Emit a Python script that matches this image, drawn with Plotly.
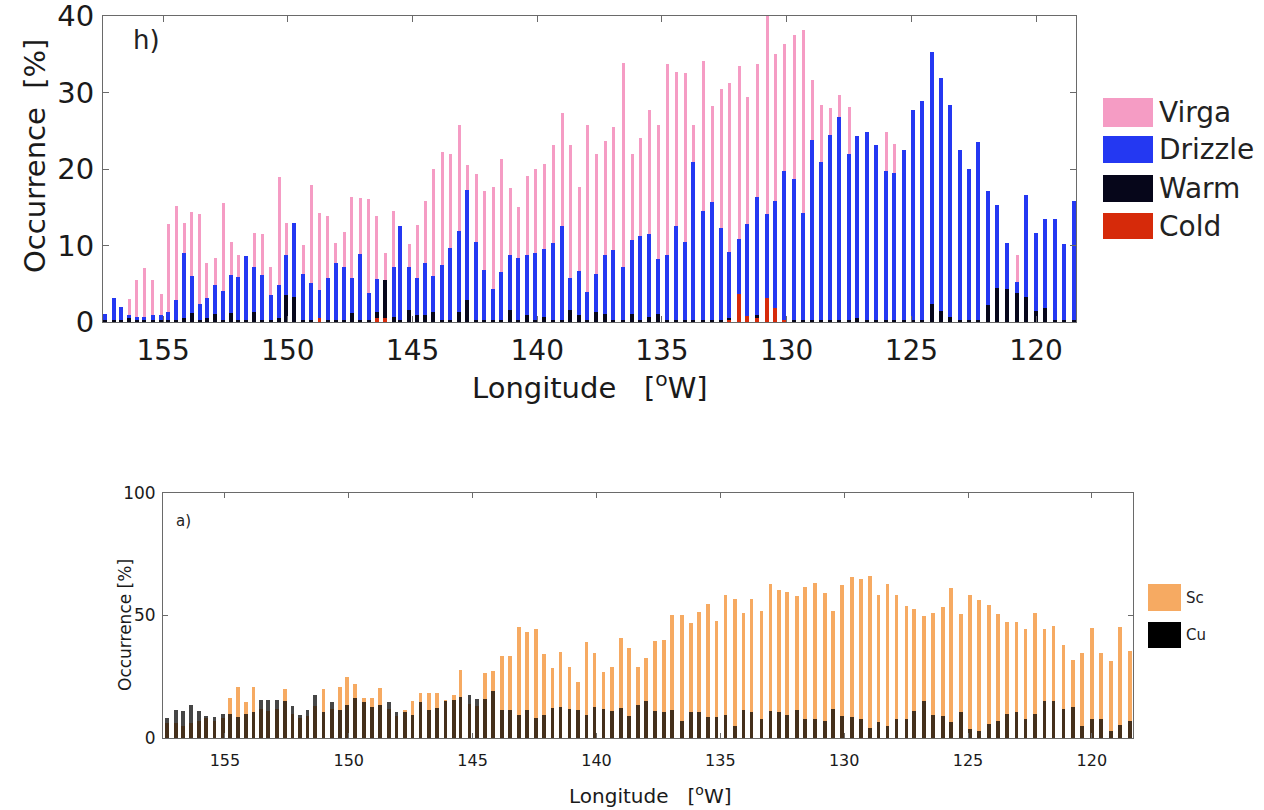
import plotly.graph_objects as go

# Longitude of each bin centre [deg W]
LON = [157.33, 156.98, 156.70, 156.36, 156.06, 155.76, 155.42, 155.08, 154.79, 154.48,
       154.16, 153.85, 153.54, 153.25, 152.91, 152.58, 152.27, 151.98, 151.67, 151.35,
       151.02, 150.68, 150.35, 150.06, 149.74, 149.39, 149.06, 148.73, 148.39, 148.07,
       147.74, 147.43, 147.10, 146.76, 146.43, 146.09, 145.76, 145.49, 145.13, 144.81,
       144.49, 144.17, 143.81, 143.49, 143.13, 142.81, 142.45, 142.13, 141.77, 141.45,
       141.09, 140.76, 140.40, 140.08, 139.72, 139.36, 139.00, 138.68, 138.32, 138.00,
       137.63, 137.27, 136.95, 136.55, 136.19, 135.87, 135.51, 135.15, 134.79, 134.42,
       134.06, 133.74, 133.34, 132.98, 132.62, 132.30, 131.90, 131.58, 131.17, 130.77,
       130.45, 130.09, 129.69, 129.33, 128.97, 128.61, 128.25, 127.89, 127.49, 127.17,
       126.77, 126.40, 126.00, 125.68, 125.28, 124.92, 124.56, 124.16, 123.80, 123.44,
       123.04, 122.68, 122.31, 121.91, 121.55, 121.15, 120.75, 120.39, 119.99, 119.63,
       119.23, 118.87, 118.47]

# Panel h): precipitation occurrence [%]
VIRGA = [0.3, 0.5, 0.5, 3.0, 5.5, 7.1, 5.5, 3.6, 12.8, 15.1,
         12.9, 14.4, 14.1, 7.7, 8.4, 15.5, 10.5, 8.8, 7.5, 11.7,
         11.5, 7.2, 19.0, 12.9, 10.0, 10.1, 17.9, 14.2, 13.8, 10.3,
         11.8, 16.4, 16.2, 16.1, 13.8, 9.0, 14.5, 10.0, 10.2, 12.7,
         15.8, 20.0, 22.2, 22.0, 25.8, 20.5, 19.4, 17.1, 17.6, 21.3,
         17.5, 15.0, 19.1, 20.0, 20.7, 23.1, 27.3, 23.2, 17.7, 25.8,
         21.9, 23.6, 25.5, 33.9, 22.0, 24.0, 27.7, 25.7, 33.7, 32.7,
         32.5, 25.8, 34.1, 28.2, 30.4, 31.2, 33.5, 29.4, 33.7, 40.0,
         35.0, 36.3, 37.5, 38.2, 31.7, 28.4, 28.0, 29.7, 28.1, 22.0,
         23.0, 21.0, 24.9, 23.3, 21.0, 25.0, 22.0, 20.0, 21.0, 21.0,
         15.0, 13.0, 14.0, 10.0, 9.0, 6.0, 8.8, 8.0, 5.0, 6.0,
         8.0, 5.0, 6.0]
DRIZZLE = [1.1, 3.2, 2.0, 0.9, 0.7, 0.7, 0.9, 0.9, 1.3, 2.9,
           9.0, 6.0, 2.4, 3.1, 4.9, 4.0, 6.2, 5.9, 8.6, 7.2,
           6.2, 3.5, 4.8, 8.8, 13.0, 6.3, 5.1, 4.2, 5.7, 7.7,
           7.2, 5.8, 8.9, 3.8, 5.6, 5.5, 7.2, 12.5, 7.2, 5.8,
           7.7, 6.0, 7.5, 9.7, 11.9, 17.3, 10.4, 6.8, 4.3, 6.6,
           8.7, 8.4, 8.7, 9.0, 9.6, 10.3, 12.6, 5.7, 6.7, 3.9,
           6.3, 8.7, 9.4, 7.2, 10.7, 11.3, 11.5, 8.3, 8.8, 12.6,
           10.5, 20.9, 14.5, 15.7, 12.3, 9.2, 10.8, 12.8, 16.4, 14.1,
           15.8, 19.8, 18.7, 14.2, 23.8, 20.9, 24.5, 26.8, 21.9, 24.3,
           24.8, 23.1, 19.7, 19.5, 22.5, 27.7, 28.9, 35.3, 31.9, 28.4,
           22.5, 20.0, 23.5, 17.1, 15.3, 10.3, 5.2, 16.6, 11.7, 13.4,
           13.4, 10.2, 15.8]
WARM = [0.2, 0.2, 0.3, 0.5, 0.3, 0.3, 0.3, 0.3, 0.3, 0.3,
        0.5, 1.2, 0.3, 0.5, 1.0, 0.3, 1.2, 0.3, 0.3, 1.3,
        0.3, 0.3, 0.5, 3.5, 3.3, 0.3, 0.3, 0.3, 0.3, 0.3,
        0.3, 1.2, 0.3, 0.3, 1.3, 5.5, 0.7, 0.3, 1.6, 0.9,
        0.9, 1.3, 0.3, 0.3, 1.3, 2.9, 0.3, 0.3, 0.3, 0.3,
        1.6, 0.3, 0.9, 0.3, 0.7, 0.3, 0.3, 1.6, 0.9, 0.3,
        1.3, 1.1, 0.3, 0.3, 1.1, 0.3, 0.7, 1.0, 0.3, 0.3,
        0.3, 0.3, 0.3, 0.3, 0.3, 0.5, 1.5, 0.3, 0.9, 0.3,
        0.3, 0.3, 0.3, 0.3, 0.3, 0.3, 0.3, 0.3, 0.3, 0.5,
        0.3, 0.3, 0.3, 0.3, 0.3, 0.3, 0.3, 2.4, 1.4, 0.7,
        0.3, 0.3, 0.3, 2.2, 4.4, 4.3, 3.8, 3.3, 1.4, 1.8,
        0.3, 0.3, 0.3]
COLD = [0.0] * 27 + [0.5] + [0.0] * 6 + [0.5, 0.5] + [0.0] * 39 + \
       [0.3, 3.6, 0.8, 0.5, 3.1, 1.8, 0.3] + [0.0] * 31

# Panel a): cloud type occurrence [%]
SC = [6.0, 6.0, 5.0, 6.0, 7.0, 8.0, 7.0, 8.0, 16.3, 20.8,
      14.6, 20.8, 12.0, 11.0, 12.0, 19.8, 10.0, 8.0, 9.0, 13.0,
      19.8, 12.0, 20.8, 24.9, 22.2, 16.3, 16.3, 20.4, 12.0, 9.0,
      11.6, 15.0, 18.4, 18.4, 18.4, 15.7, 17.7, 27.9, 14.0, 13.0,
      26.6, 27.2, 33.6, 33.6, 45.4, 43.2, 44.3, 34.1, 28.6, 35.1,
      29.0, 22.9, 39.2, 34.5, 26.8, 28.9, 40.9, 36.8, 29.0, 32.7,
      39.5, 39.8, 50.4, 50.1, 47.0, 51.4, 54.5, 47.7, 58.2, 56.8,
      51.1, 56.8, 51.8, 62.7, 60.6, 59.5, 57.9, 61.6, 63.1, 59.0,
      51.8, 62.3, 65.7, 65.0, 66.3, 58.2, 62.7, 58.2, 53.8, 52.7,
      49.7, 51.1, 53.4, 61.3, 50.8, 58.2, 56.3, 54.1, 50.8, 47.3,
      47.3, 44.6, 51.1, 44.3, 45.9, 38.1, 32.0, 34.5, 45.0, 34.5,
      31.3, 45.2, 35.4]
CU = [8.2, 11.6, 10.9, 13.4, 10.9, 8.9, 8.6, 9.9, 9.9, 8.6,
      9.9, 10.5, 15.7, 15.7, 15.4, 15.0, 12.9, 9.5, 11.6, 17.4,
      10.5, 14.6, 11.6, 13.6, 16.3, 14.6, 12.5, 13.5, 14.6, 10.8,
      10.5, 9.5, 14.6, 11.6, 12.3, 15.0, 15.7, 16.8, 17.4, 15.9,
      15.9, 19.1, 11.6, 11.6, 9.5, 11.6, 8.2, 9.5, 12.3, 12.7,
      11.9, 11.6, 9.5, 12.5, 11.9, 10.9, 12.3, 9.1, 13.6, 15.0,
      10.9, 10.5, 11.6, 6.8, 10.5, 10.5, 8.4, 8.6, 9.5, 5.0,
      11.6, 10.5, 7.8, 10.9, 10.5, 9.5, 11.6, 7.8, 7.8, 6.8,
      11.9, 8.9, 8.6, 7.8, 4.1, 6.4, 5.0, 7.8, 7.8, 10.9,
      15.0, 9.4, 8.9, 6.4, 10.8, 3.7, 2.7, 5.7, 6.8, 9.8,
      10.6, 7.8, 9.8, 15.0, 15.0, 11.9, 12.7, 5.0, 7.8, 7.8,
      2.7, 5.4, 6.8]

LON_TICKS = [155, 150, 145, 140, 135, 130, 125, 120]

PINK = "#f59cc4"
BLUE = "#2438f2"
WARM_C = "#06061a"
COLD_C = "#d62a0a"
ORANGE = "#f6aa62"

W, H = 1264, 810
FONT = "DejaVu Sans, Liberation Sans, sans-serif"


def px(x):
    return x / W


def py(y):
    return 1 - y / H


fig = go.Figure()

# upper panel: overlaid bars, widest category drawn first
for vals, col, wid in [(VIRGA, PINK, 0.12), (DRIZZLE, BLUE, 0.16),
                       (WARM, WARM_C, 0.16), (COLD, COLD_C, 0.16)]:
    fig.add_trace(go.Bar(x=LON, y=vals, width=wid, marker_color=col,
                         marker_line_width=0, showlegend=False,
                         xaxis="x", yaxis="y"))

# lower panel: stratocumulus underneath, cumulus semi-transparent on top
fig.add_trace(go.Bar(x=LON, y=SC, width=0.15, marker_color=ORANGE,
                     marker_line_width=0, showlegend=False, xaxis="x2", yaxis="y2"))
fig.add_trace(go.Bar(x=LON, y=CU, width=0.15, marker_color="black", opacity=0.72,
                     marker_line_width=0, showlegend=False, xaxis="x2", yaxis="y2"))

axis_common = dict(showline=True, linecolor="#6a6a6a", linewidth=1, mirror="ticks",
                   ticks="inside", tickcolor="#6a6a6a", showgrid=False, zeroline=False,
                   automargin=False, ticklabeloverflow="allow")

fig.update_layout(
    width=W, height=H, margin=dict(l=0, r=0, t=0, b=0, autoexpand=False),
    paper_bgcolor="white", plot_bgcolor="white",
    barmode="overlay", bargap=0,
    font=dict(family=FONT, color="#1a1a1a"),
    xaxis=dict(domain=[px(103), px(1076)], range=[157.41, 118.40], anchor="y",
               tickvals=LON_TICKS, ticklen=6, tickfont=dict(size=28),
               ticklabelstandoff=3, **axis_common),
    yaxis=dict(domain=[py(322), py(16)], range=[0, 40], anchor="x",
               tickvals=[0, 10, 20, 30, 40], ticklen=6, tickfont=dict(size=29),
               ticklabelstandoff=2, **axis_common),
    xaxis2=dict(domain=[px(163), px(1133)], range=[157.50, 118.34], anchor="y2",
                tickvals=LON_TICKS, ticklen=5, tickfont=dict(size=16),
                ticklabelstandoff=8, **axis_common),
    yaxis2=dict(domain=[py(738), py(493)], range=[0, 100], anchor="x2",
                tickvals=[0, 50, 100], ticklen=5, tickfont=dict(size=17),
                ticklabelstandoff=3, **axis_common),
)

ann = [
    dict(text="h)", x=px(131), y=py(40), xanchor="left", yanchor="middle",
         font=dict(size=26, color="#222")),
    dict(text="a)", x=px(174), y=py(521), xanchor="left", yanchor="middle",
         font=dict(size=15, color="#222")),
    dict(text="Occurrence  [%]", x=px(35), y=py(156), textangle=-90,
         xanchor="center", yanchor="middle", font=dict(size=29)),
    dict(text="Longitude   [<sup>o</sup>W]", x=px(590), y=py(386),
         xanchor="center", yanchor="middle", font=dict(size=29)),
    dict(text="Occurrence [%]", x=px(125), y=py(625), textangle=-90,
         xanchor="center", yanchor="middle", font=dict(size=17)),
    dict(text="Longitude   [<sup>o</sup>W]", x=px(650), y=py(795),
         xanchor="center", yanchor="middle", font=dict(size=20)),
]

shapes = []
# legend for the upper panel
for label, col, y0, y1 in [("Virga", PINK, 98, 127), ("Drizzle", BLUE, 136, 163),
                           ("Warm", WARM_C, 175, 202), ("Cold", COLD_C, 213, 239)]:
    shapes.append(dict(type="rect", xref="paper", yref="paper", x0=px(1103), x1=px(1153),
                       y0=py(y1), y1=py(y0), fillcolor=col, line_width=0))
    ann.append(dict(text=label, x=px(1157), y=py((y0 + y1) / 2), xanchor="left",
                    yanchor="middle", font=dict(size=28, color="#222")))
# legend for the lower panel
for label, col, y0, y1 in [("Sc", ORANGE, 584, 611), ("Cu", "black", 622, 648)]:
    shapes.append(dict(type="rect", xref="paper", yref="paper", x0=px(1148), x1=px(1181),
                       y0=py(y1), y1=py(y0), fillcolor=col, line_width=0))
    ann.append(dict(text=label, x=px(1184), y=py((y0 + y1) / 2), xanchor="left",
                    yanchor="middle", font=dict(size=15, color="#222")))

for a in ann:
    a.update(xref="paper", yref="paper", showarrow=False)
fig.update_layout(annotations=ann, shapes=shapes)

fig.write_html("out.html")
